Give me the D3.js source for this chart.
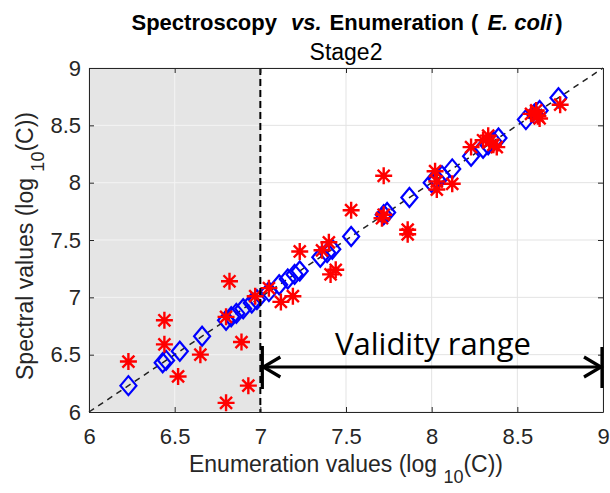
<!DOCTYPE html>
<html><head><meta charset="utf-8">
<script src="https://cdn.jsdelivr.net/npm/d3@7/dist/d3.min.js"></script>
<style>body{margin:0;background:#fff;} svg{display:block;}</style>
</head><body>
<svg id="chart" width="610" height="493"></svg>
<script>
// ---- data ----
const xTicks = [6, 6.5, 7, 7.5, 8, 8.5, 9];
const yTicks = [6, 6.5, 7, 7.5, 8, 8.5, 9];
const xTickLabels = ["6", "6.5", "7", "7.5", "8", "8.5", "9"];
const yTickLabels = ["6", "6.5", "7", "7.5", "8", "8.5", "9"];
// measured (red asterisks): enumeration vs spectral
const enumValues = [6.23, 6.44, 6.44, 6.52, 6.65, 6.80, 6.82, 6.80, 6.89, 6.93,
  6.97, 7.05, 7.12, 7.19, 7.23, 7.36, 7.40, 7.41, 7.44, 7.53,
  7.72, 7.71, 7.72, 7.86, 7.86, 8.02, 8.03, 8.03, 8.12, 8.23,
  8.30, 8.33, 8.36, 8.38, 8.34, 8.58, 8.61, 8.63, 8.62, 8.75];
const spectralValues = [6.44, 6.80, 6.59, 6.31, 6.50, 6.08, 7.14, 6.83, 6.61, 6.23,
  7.01, 7.08, 6.96, 7.01, 7.40, 7.41, 7.48, 7.20, 7.24, 7.76,
  8.06, 7.69, 7.72, 7.59, 7.55, 8.10, 8.01, 7.94, 7.99, 8.31,
  8.37, 8.41, 8.33, 8.31, 8.36, 8.60, 8.63, 8.56, 8.58, 8.68];
// reference (blue diamonds)
const refX = [6.23, 6.43, 6.45, 6.53, 6.66, 6.80, 6.83, 6.86, 6.90, 6.95, 6.98,
  7.05, 7.11, 7.16, 7.20, 7.23, 7.35, 7.39, 7.42, 7.53, 7.72, 7.74, 7.87,
  8.00, 8.03, 8.06, 8.12, 8.23, 8.30, 8.33, 8.36, 8.39, 8.55, 8.60, 8.63, 8.74];
const refY = [6.23, 6.43, 6.45, 6.53, 6.66, 6.80, 6.83, 6.86, 6.90, 6.95, 6.98,
  7.05, 7.11, 7.16, 7.20, 7.23, 7.35, 7.39, 7.42, 7.53, 7.72, 7.74, 7.87,
  8.00, 8.03, 8.06, 8.12, 8.23, 8.30, 8.33, 8.36, 8.39, 8.55, 8.60, 8.63, 8.74];
const shadeRange = [6, 7];
const validityRange = [7, 9];
const identityLine = [6, 9];

// ---- layout ----
const W = 610, H = 493;
const m = {left: 89, right: 7, top: 68, bottom: 81};
const svg = d3.select("#chart");
const x = d3.scaleLinear().domain([6, 9]).range([m.left, W - m.right]);
const y = d3.scaleLinear().domain([6, 9]).range([H - m.bottom, m.top]);
const axCol = "#262626";
const font = "'Liberation Sans', Arial, Helvetica, sans-serif";

// white-region grid
const g = svg.append("g");
g.selectAll("line.gx").data(xTicks).join("line")
  .attr("x1", d => x(d)).attr("x2", d => x(d))
  .attr("y1", y(9)).attr("y2", y(6))
  .attr("stroke", "#e3e3e3").attr("stroke-width", 1);
g.selectAll("line.gy").data(yTicks).join("line")
  .attr("x1", x(6)).attr("x2", x(9))
  .attr("y1", d => y(d)).attr("y2", d => y(d))
  .attr("stroke", "#e3e3e3").attr("stroke-width", 1);

// shaded region
svg.append("rect")
  .attr("x", x(shadeRange[0])).attr("y", y(9))
  .attr("width", x(shadeRange[1]) - x(shadeRange[0]))
  .attr("height", y(6) - y(9))
  .attr("fill", "#e5e5e5");
const sg = svg.append("g");
sg.selectAll("line").data(xTicks.filter(d => d > shadeRange[0] && d < shadeRange[1])).join("line")
  .attr("x1", d => x(d)).attr("x2", d => x(d)).attr("y1", y(9)).attr("y2", y(6))
  .attr("stroke", "#f4f4f4").attr("stroke-width", 1);
sg.selectAll("line.h").data(yTicks).join("line")
  .attr("x1", x(shadeRange[0])).attr("x2", x(shadeRange[1]))
  .attr("y1", d => y(d)).attr("y2", d => y(d))
  .attr("stroke", "#f4f4f4").attr("stroke-width", 1);

// identity dashed line
svg.append("line")
  .attr("x1", x(identityLine[0])).attr("y1", y(identityLine[0]))
  .attr("x2", x(identityLine[1])).attr("y2", y(identityLine[1]))
  .attr("stroke", "#222").attr("stroke-width", 1.5)
  .attr("stroke-dasharray", "6,5");

// diamonds
const dW = 8, dH = 9.5;
svg.append("g").selectAll("path").data(refX.map((v, i) => [v, refY[i]])).join("path")
  .attr("d", d => {
    const cx = x(d[0]), cy = y(d[1]);
    return `M${cx},${cy - dH}L${cx + dW},${cy}L${cx},${cy + dH}L${cx - dW},${cy}Z`;
  })
  .attr("fill", "none").attr("stroke", "#0000ff").attr("stroke-width", 2.2);

// asterisks
const r = 8.5;
const starPath = (cx, cy) => {
  const a = r * Math.SQRT1_2;
  return `M${cx - r},${cy}L${cx + r},${cy}M${cx},${cy - r}L${cx},${cy + r}` +
    `M${cx - a},${cy - a}L${cx + a},${cy + a}M${cx - a},${cy + a}L${cx + a},${cy - a}`;
};
svg.append("g").selectAll("path").data(enumValues.map((v, i) => [v, spectralValues[i]])).join("path")
  .attr("d", d => starPath(x(d[0]), y(d[1])))
  .attr("fill", "none").attr("stroke", "#ff0000").attr("stroke-width", 2.4);

// vertical dashed line at x=7
svg.append("line")
  .attr("x1", x(shadeRange[1])).attr("x2", x(shadeRange[1]))
  .attr("y1", y(9)).attr("y2", y(6))
  .attr("stroke", "#000").attr("stroke-width", 2)
  .attr("stroke-dasharray", "7,4");

// axes (box with inward ticks)
const tick = 5;
const xAxisB = d3.axisBottom(x).tickValues(xTicks).tickFormat((d, i) => xTickLabels[i]).tickSizeInner(-tick).tickSizeOuter(0).tickPadding(16);
const xAxisT = d3.axisTop(x).tickValues(xTicks).tickFormat("").tickSizeInner(-tick).tickSizeOuter(0);
const yAxisL = d3.axisLeft(y).tickValues(yTicks).tickFormat((d, i) => yTickLabels[i]).tickSizeInner(-tick).tickSizeOuter(0).tickPadding(8);
const yAxisR = d3.axisRight(y).tickValues(yTicks).tickFormat("").tickSizeInner(-tick).tickSizeOuter(0);
function style(sel) {
  sel.select(".domain").attr("stroke", axCol).attr("stroke-width", 1);
  sel.selectAll(".tick line").attr("stroke", axCol);
  sel.selectAll(".tick text").attr("fill", axCol).style("font-family", font).style("font-size", "22px");
}
svg.append("g").attr("transform", `translate(0,${y(6)})`).call(xAxisB).call(style);
svg.append("g").attr("transform", `translate(0,${y(9)})`).call(xAxisT).call(style);
svg.append("g").attr("transform", `translate(${x(6)},0)`).call(yAxisL).call(style);
svg.append("g").attr("transform", `translate(${x(9)},0)`).call(yAxisR).call(style);

// validity arrow
const ay = 367;
const ag = svg.append("g").attr("stroke", "#000").attr("fill", "none");
const xa = x(validityRange[0]) + 2, xb = x(validityRange[1]) - 1;
ag.append("line").attr("x1", xa).attr("x2", xb).attr("y1", ay).attr("y2", ay).attr("stroke-width", 3.2);
ag.append("line").attr("x1", xa).attr("x2", xa).attr("y1", ay - 21).attr("y2", ay + 22).attr("stroke-width", 3.2);
ag.append("line").attr("x1", xb).attr("x2", xb).attr("y1", ay - 20).attr("y2", ay + 21).attr("stroke-width", 3.2);
ag.append("path").attr("d", `M${xa + 18},${ay - 10}L${xa + 1},${ay}L${xa + 18},${ay + 10}`).attr("stroke-width", 3.2);
ag.append("path").attr("d", `M${xb - 18},${ay - 10}L${xb - 1},${ay}L${xb - 18},${ay + 10}`).attr("stroke-width", 3.2);
svg.append("text").attr("x", 433).attr("y", 355)
  .attr("text-anchor", "middle").style("font-family", "'Open Sans', Lato, sans-serif")
  .style("font-size", "31px").attr("fill", "#000").text("Validity range");

// titles
const t = svg.append("text").attr("x", 347).attr("y", 30).attr("text-anchor", "middle")
  .style("font-family", font).style("font-size", "22px")
  .style("font-weight", "bold").attr("fill", "#000");
t.append("tspan").text("Spectroscopy");
t.append("tspan").attr("dx", 14).style("font-style", "italic").text("vs.");
t.append("tspan").attr("dx", 8).text("Enumeration");
t.append("tspan").attr("dx", 7).text("(");
t.append("tspan").attr("dx", 9).style("font-style", "italic").text("E. coli");
t.append("tspan").attr("dx", 3).text(")");
svg.append("text").attr("x", (x(6) + x(9)) / 2).attr("y", 60)
  .attr("text-anchor", "middle").style("font-family", font).style("font-size", "23px")
  .attr("fill", "#000").text("Stage2");

// x label
const xl = svg.append("text").attr("x", (x(6) + x(9)) / 2).attr("y", 472)
  .attr("text-anchor", "middle").style("font-family", font).style("font-size", "23px").attr("fill", axCol);
xl.append("tspan").text("Enumeration values (log ");
xl.append("tspan").attr("dy", 11).style("font-size", "18px").text("10");
xl.append("tspan").attr("dy", -11).text("(C))");
// y label
const yl = svg.append("text").attr("transform", `translate(33,${(y(6) + y(9)) / 2 + 6}) rotate(-90)`)
  .attr("text-anchor", "middle").style("font-family", font).style("font-size", "23px").attr("fill", axCol);
yl.append("tspan").text("Spectral values (log ");
yl.append("tspan").attr("dy", 11).style("font-size", "18px").text("10");
yl.append("tspan").attr("dy", -11).text("(C))");
</script>
</body></html>
